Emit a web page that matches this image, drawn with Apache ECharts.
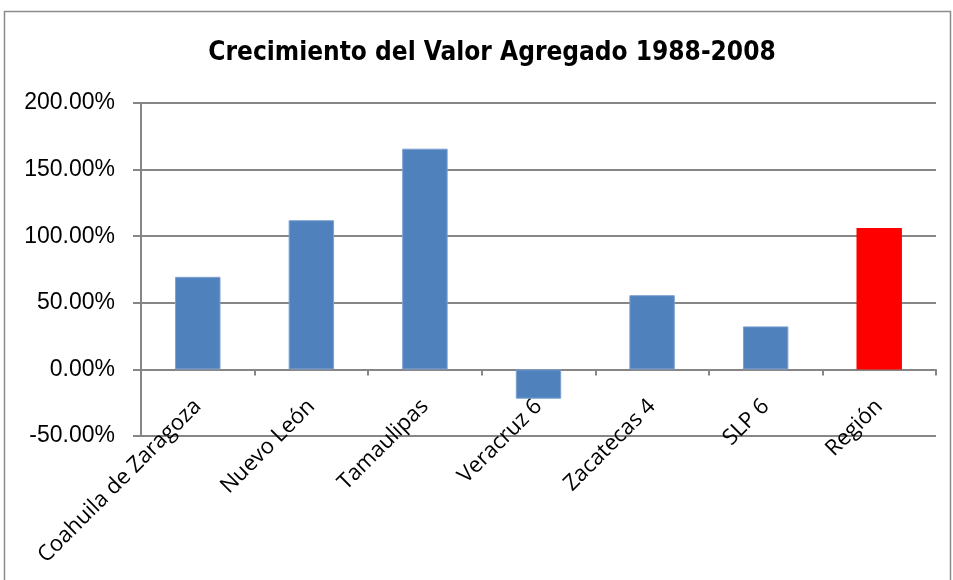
<!DOCTYPE html>
<html>
<head>
<meta charset="utf-8">
<script src="https://cdn.jsdelivr.net/npm/echarts@6/dist/echarts.min.js"></script>
<style>html,body{margin:0;padding:0;background:#fff}#c{width:953px;height:580px}</style>
</head>
<body>
<div id="c"></div>
<script>
const categories = ['Coahuila de Zaragoza', 'Nuevo León', 'Tamaulipas', 'Veracruz 6', 'Zacatecas 4', 'SLP 6', 'Región'];
const growth = [69.5, 112.0, 165.7, -22.0, 55.7, 32.3, 106.2];
const highlightCategory = 'Región';
const yTicks = [-50, 0, 50, 100, 150, 200];

const chart = echarts.init(document.getElementById('c'), null, {renderer: 'canvas'});
chart.setOption({
  animation: false,
  title: {
    text: 'Crecimiento del Valor Agregado 1988-2008',
    left: 487, top: 35, textAlign: 'center',
    textStyle: {fontFamily: '"Liberation Sans Narrow", "DejaVu Sans Condensed", sans-serif', fontWeight: 'bold', fontSize: 26, color: '#000'}
  },
  graphic: [{
    type: 'rect', shape: {x: 4.5, y: 11.5, width: 946, height: 600},
    style: {fill: 'none', stroke: '#8c8c8c', lineWidth: 1.5}, silent: true
  }],
  grid: {left: 141, right: 17, top: 103, bottom: 144, containLabel: false, outerBoundsMode: 'none'},
  xAxis: {
    type: 'category', data: categories,
    axisLine: {onZero: true, lineStyle: {color: '#868686', width: 2}},
    axisTick: {show: true, length: 6, lineStyle: {color: '#868686', width: 2}},
    axisLabel: {rotate: 45, fontFamily: '"Open Sans", sans-serif', fontSize: 22, color: '#000', margin: -33, interval: 0}
  },
  yAxis: {
    type: 'value', min: yTicks[0], max: yTicks[yTicks.length - 1], interval: 50,
    axisLine: {show: true, lineStyle: {color: '#868686', width: 2}},
    axisTick: {show: true, length: 8, lineStyle: {color: '#868686', width: 2}},
    splitLine: {lineStyle: {color: '#868686', width: 2}},
    axisLabel: {formatter: v => v.toFixed(2) + '%', fontFamily: '"Liberation Sans", Arial, sans-serif', fontSize: 23, color: '#000', margin: 26}
  },
  series: [{
    type: 'bar', barWidth: '40%',
    data: growth.map((v, i) => ({
      value: v,
      itemStyle: categories[i] === highlightCategory
        ? {color: '#FF0000'}
        : {color: '#4F81BD', borderColor: '#7DA0D0', borderWidth: 1}
    }))
  }]
});
</script>
</body>
</html>
